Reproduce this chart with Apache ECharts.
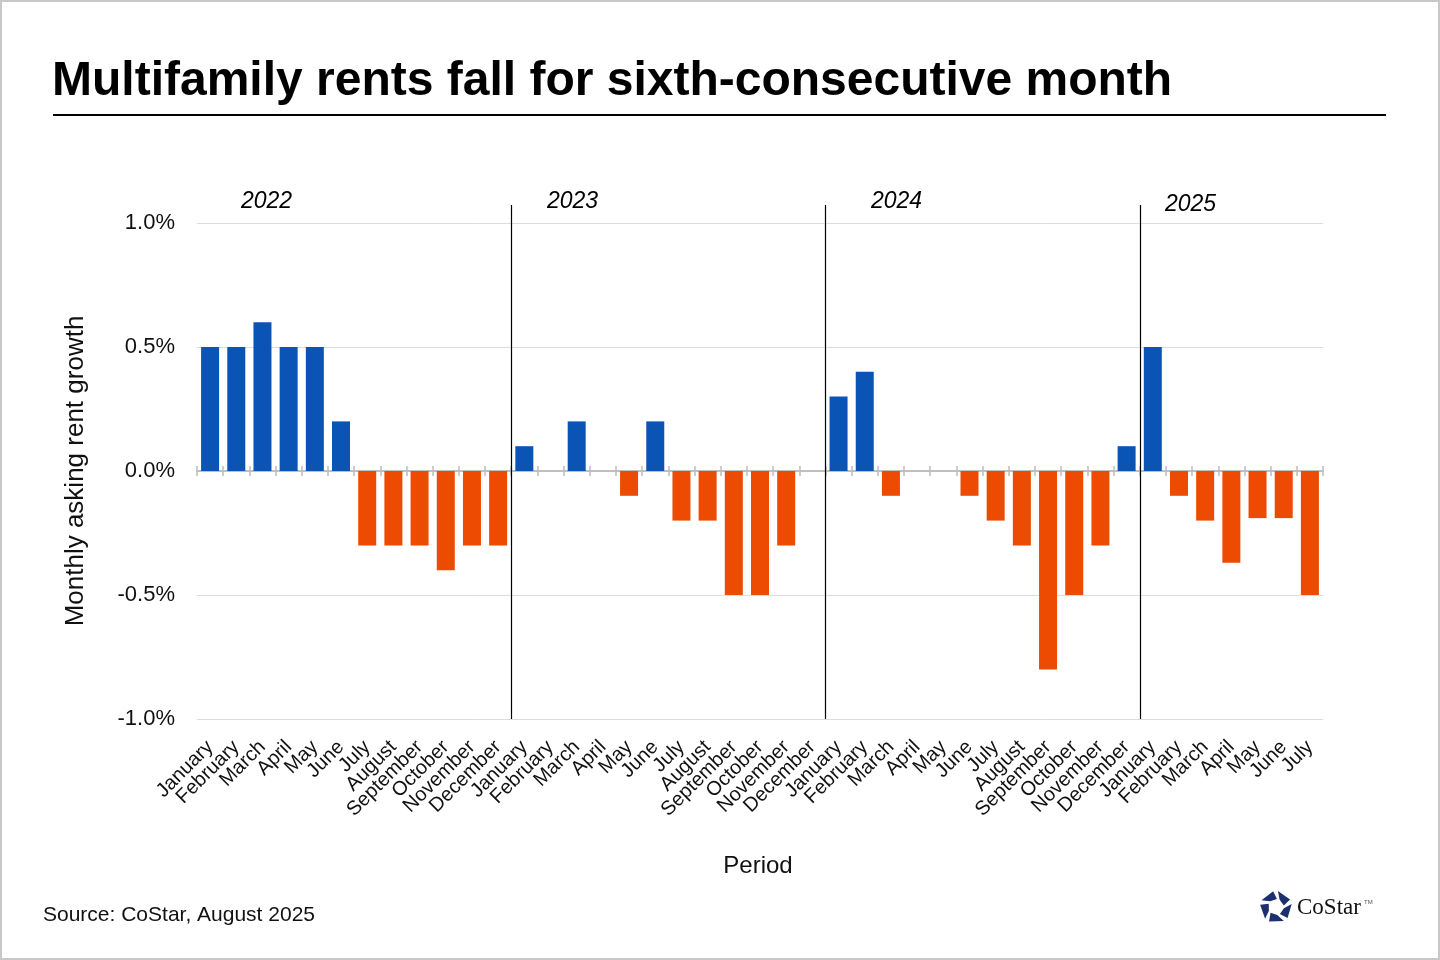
<!DOCTYPE html>
<html><head><meta charset="utf-8">
<style>html,body{margin:0;padding:0;background:#fff}#c{width:1440px;height:960px}</style>
<script src="https://cdn.jsdelivr.net/npm/echarts@6/dist/echarts.min.js"></script>
</head><body><div id="c"></div>
<script>
const months = ["January","February","March","April","May","June","July","August","September","October","November","December"];
const categories = [].concat(months, months, months, months.slice(0,7));
const growth2022 = [0.5,0.5,0.6,0.5,0.5,0.2,-0.3,-0.3,-0.3,-0.4,-0.3,-0.3];
const growth2023 = [0.1,0,0.2,0,-0.1,0.2,-0.2,-0.2,-0.5,-0.5,-0.3,0];
const growth2024 = [0.3,0.4,-0.1,0,0,-0.1,-0.2,-0.3,-0.8,-0.5,-0.3,0.1];
const growth2025 = [0.5,-0.1,-0.2,-0.37,-0.19,-0.19,-0.5];
const values = [].concat(growth2022, growth2023, growth2024, growth2025);
const yearLabels = ["2022","2023","2024","2025"];
const yearBreakAfter = [11,23,35];

const BLUE = "#0A54B6", ORANGE = "#EE4B02";
const FONT = "Liberation Sans, Arial, sans-serif";
const chart = echarts.init(document.getElementById('c'));

// CoStar icon pieces
const logo = [];
const cx = 1276, cy = 907;
for (let i = 0; i < 5; i++) {
  const a0 = -Math.PI/2 + i*2*Math.PI/5 + 0.12;
  const a1 = a0 + 2*Math.PI/5 - 0.3;
  const R = 16, r = 8;
  const am = a0 + 0.35;
  logo.push({type:'polygon', shape:{points:[
    [cx+R*Math.cos(a0), cy+R*Math.sin(a0)],
    [cx+R*Math.cos(a1), cy+R*Math.sin(a1)],
    [cx+r*Math.cos(a1+0.3), cy+r*Math.sin(a1+0.3)],
    [cx+r*Math.cos(am), cy+r*Math.sin(am)]
  ]}, style:{fill:'#1c2f6e'}});
}

const yearPos = [[241,201],[547,201],[871,201],[1165,204]];
const tickStyle = {color:'#bdbdbd', width:1.5};

chart.setOption({
  animation:false,
  grid:{left:197,right:117,top:223,bottom:241,containLabel:false},
  xAxis:[{
    type:'category', data:categories, position:'bottom',
    axisLine:{show:false, onZero:false}, axisTick:{show:false},
    axisLabel:{interval:0, rotate:45, fontSize:20, color:'#111', fontFamily:FONT, margin:25},
    splitLine:{show:false}
  },{
    type:'category', data:categories, position:'bottom',
    axisLine:{onZero:true, onZeroAxisIndex:0, lineStyle:tickStyle},
    axisTick:{show:true, interval:0, length:5, lineStyle:tickStyle},
    axisLabel:{show:false}, splitLine:{show:false}
  },{
    type:'category', data:categories, position:'bottom',
    axisLine:{onZero:true, onZeroAxisIndex:1, lineStyle:tickStyle},
    axisTick:{show:true, interval:0, inside:true, length:5, lineStyle:tickStyle},
    axisLabel:{show:false}, splitLine:{show:false}
  }],
  yAxis:[{
    type:'value', min:-1, max:1, interval:0.5,
    name:'Monthly asking rent growth', nameLocation:'middle', nameGap:108,
    nameTextStyle:{fontSize:26, color:'#111', fontFamily:FONT},
    axisLabel:{fontSize:22, color:'#111', fontFamily:FONT, margin:22, padding:[7,0,0,0],
      formatter:v=>v.toFixed(1)+'%'},
    axisLine:{show:false}, axisTick:{show:false},
    splitLine:{lineStyle:{color:'#dcdcdc', width:1}}
  },{
    type:'value', min:-1, max:1, interval:0.5, position:'left',
    axisLine:{show:false}, axisTick:{show:false}, axisLabel:{show:false}, splitLine:{show:false}
  }],
  series:[{
    type:'bar', data:values, barWidth:18, xAxisIndex:0, yAxisIndex:0,
    itemStyle:{color:p=>p.value>=0?BLUE:ORANGE}, z:1
  },{
    type:'custom', xAxisIndex:0, yAxisIndex:0, data:yearBreakAfter.map(i=>[i]), z:5, clip:false,
    renderItem:(params, api)=>{
      const idx = api.value(0);
      const half = api.size([1,0])[0]/2;
      const bottom = api.coord([idx,-1]);
      const top = api.coord([idx,1]);
      const x = Math.round(bottom[0]+half)+0.5;
      return {type:'line', shape:{x1:x,y1:top[1]-18,x2:x,y2:bottom[1]}, style:{stroke:'#000', lineWidth:1.2}};
    }
  }],
  graphic:[
    {type:'rect', shape:{x:1,y:1,width:1438,height:958}, style:{fill:'none', stroke:'#c8c8c8', lineWidth:2}},
    {type:'text', left:52, top:58, style:{text:'Multifamily rents fall for sixth-consecutive month', font:'bold 48px '+FONT, fill:'#000'}},
    {type:'rect', shape:{x:53,y:114,width:1333,height:2}, style:{fill:'#000'}},
    ...yearLabels.map((t,i)=>({type:'text', x:yearPos[i][0], y:yearPos[i][1]+1, style:{text:t, font:'italic 23px '+FONT, fill:'#000', verticalAlign:'middle'}})),
    {type:'text', x:758, y:866, style:{text:'Period', font:'24px '+FONT, fill:'#111', align:'center', verticalAlign:'middle'}},
    {type:'text', x:43, y:915, style:{text:'Source: CoStar, August 2025', font:'21px '+FONT, fill:'#111', verticalAlign:'middle'}},
    ...logo,
    {type:'text', x:1297, y:908, style:{text:'CoStar', font:'23px Liberation Serif, Times New Roman, serif', fill:'#111', verticalAlign:'middle'}},
    {type:'text', x:1364, y:902, style:{text:'TM', font:'6px '+FONT, fill:'#555', verticalAlign:'middle'}}
  ]
});
</script></body></html>
